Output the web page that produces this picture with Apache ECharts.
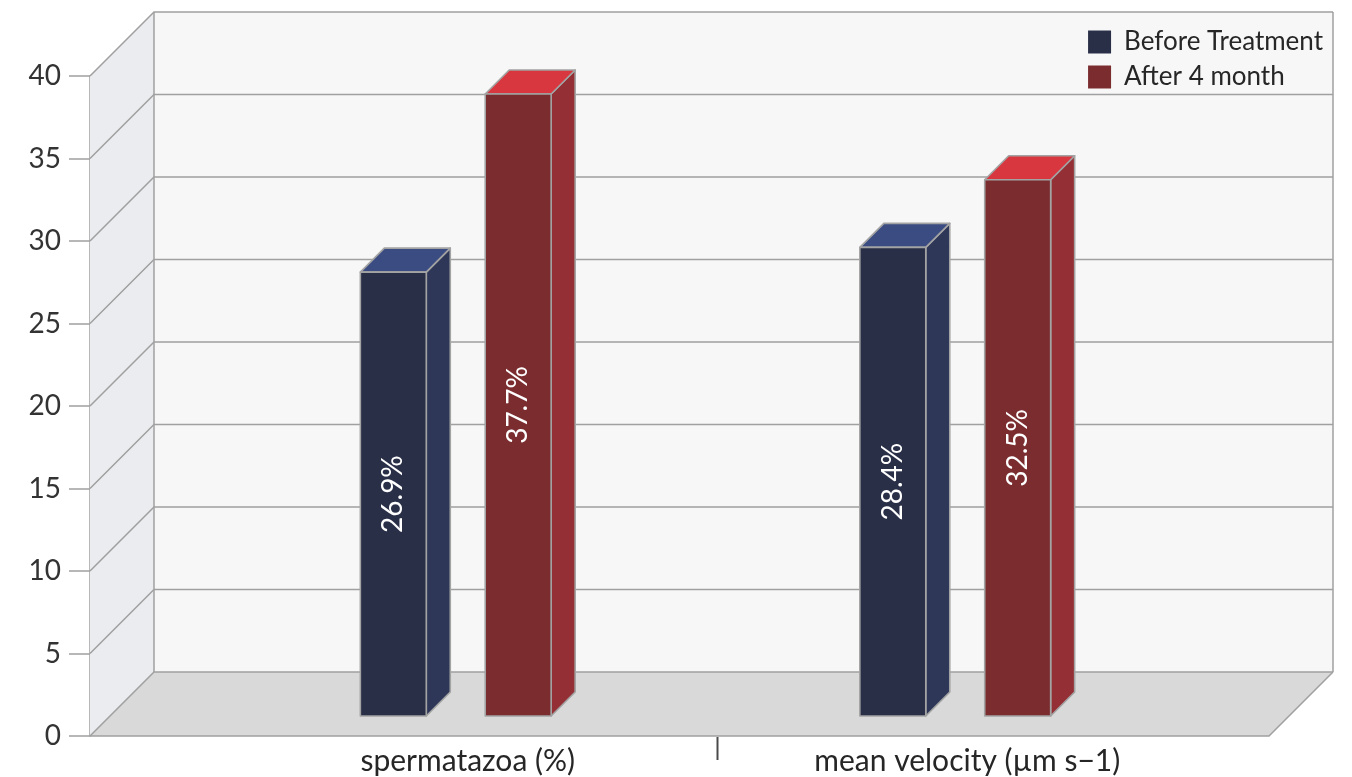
<!DOCTYPE html>
<html>
<head>
<meta charset="utf-8">
<title>Before / After treatment</title>
<script src="https://cdn.jsdelivr.net/npm/echarts@6/dist/echarts.min.js"></script>
<style>
  html, body { margin: 0; padding: 0; background: #ffffff; }
  #chart { width: 1352px; height: 777px; }
</style>
</head>
<body>
<div id="chart"></div>
<script>
// ---- data ----
const categories = ['spermatazoa (%)', 'mean velocity (µm s\u22121)'];
const seriesNames = ['Before Treatment', 'After 4 month'];
const beforeValues = [26.9, 28.4];
const afterValues = [37.7, 32.5];
const yTicks = [0, 5, 10, 15, 20, 25, 30, 35, 40];

// ---- look ----
const FONT = 'Lato';
const DEPTH = 64;          // depth of the floor / side wall, px
const BAR_DEPTH = 24;      // depth of each bar, px (centred in DEPTH)
const HALF = DEPTH / 2;
const EDGE = '#a3a3a3';
const palette = [
  { front: '#2a2f48', side: '#2e3758', top: '#3b4c82' },
  { front: '#7a2c2f', side: '#943035', top: '#d8373f' }
];

const chart = echarts.init(document.getElementById('chart'));

// back wall, side wall, floor and gridlines in the front-plane grid
function renderFrame(params, api) {
  const x0 = api.coord([0, 0])[0];
  const x1 = api.coord([1, 0])[0];
  const y = v => api.coord([0, v])[1];
  const yTop = y(yTicks[yTicks.length - 1]);
  const yBot = y(0);
  const line = { stroke: '#a0a0a0', lineWidth: 1.5 };
  const children = [
    { type: 'polygon', shape: { points: [[x0 + DEPTH, yTop - DEPTH], [x1 + DEPTH, yTop - DEPTH], [x1 + DEPTH, yBot - DEPTH], [x0 + DEPTH, yBot - DEPTH]] },
      style: { fill: '#f7f7f7', stroke: null } },
    { type: 'polygon', shape: { points: [[x0, yTop], [x0 + DEPTH, yTop - DEPTH], [x0 + DEPTH, yBot - DEPTH], [x0, yBot]] },
      style: { fill: '#ebecef', stroke: null } },
    { type: 'polygon', shape: { points: [[x0, yBot], [x1, yBot], [x1 + DEPTH, yBot - DEPTH], [x0 + DEPTH, yBot - DEPTH]] },
      style: { fill: '#d9d9d9', stroke: null } }
  ];
  yTicks.forEach(v => {
    const yy = y(v);
    children.push({ type: 'polyline', shape: { points: [[x0, yy], [x0 + DEPTH, yy - DEPTH], [x1 + DEPTH, yy - DEPTH]] }, style: Object.assign({ fill: null }, line) });
  });
  // wall edges
  children.push({ type: 'line', shape: { x1: x0 + DEPTH, y1: yTop - DEPTH, x2: x0 + DEPTH, y2: yBot - DEPTH }, style: line });
  children.push({ type: 'line', shape: { x1: x1 + DEPTH, y1: yTop - DEPTH, x2: x1 + DEPTH, y2: yBot - DEPTH }, style: line });
  children.push({ type: 'polyline', shape: { points: [[x0, yBot], [x1, yBot], [x1 + DEPTH, yBot - DEPTH]] }, style: Object.assign({ fill: null }, line) });
  return { type: 'group', children: children };
}

// 3D bars drawn in the mid-depth grid
function makeBarRenderer(seriesIdx, values) {
  const colors = palette[seriesIdx];
  const offsetFrac = seriesIdx === 0 ? -0.125 : 0.125;
  const widthFrac = 0.132;
  const d = BAR_DEPTH / 2;
  return function (params, api) {
    const idx = api.value(0);
    const val = api.value(1);
    const top = api.coord([idx, val]);
    const base = api.coord([idx, 0]);
    const band = api.size([1, 0])[0];
    const w = band * widthFrac;
    const cx = top[0] + band * offsetFrac;
    // front face corners
    const fl = cx - w / 2 - d, fr = cx + w / 2 - d;
    const ft = top[1] + d, fb = base[1] + d;
    const edge = { stroke: EDGE, lineWidth: 1.6, lineJoin: 'round' };
    return {
      type: 'group',
      children: [
        { type: 'polygon', shape: { points: [[fr, ft], [fr + 2 * d, ft - 2 * d], [fr + 2 * d, fb - 2 * d], [fr, fb]] },
          style: Object.assign({ fill: colors.side }, edge) },
        { type: 'polygon', shape: { points: [[fl, ft], [fr, ft], [fr + 2 * d, ft - 2 * d], [fl + 2 * d, ft - 2 * d]] },
          style: Object.assign({ fill: colors.top }, edge) },
        { type: 'rect', shape: { x: fl, y: ft, width: fr - fl, height: fb - ft },
          style: Object.assign({ fill: colors.front }, edge) },
        { type: 'text', x: (fl + fr) / 2, y: (ft + fb) / 2, rotation: Math.PI / 2,
          style: { text: values[idx].toFixed(1) + '%', fill: '#ffffff', font: '28px ' + FONT, align: 'center', verticalAlign: 'middle' } }
      ]
    };
  };
}

// divider tick between the two categories, below the floor
function renderDivider(params, api) {
  const a = api.coord([0, 0]);
  const b = api.coord([1, 0]);
  const x = (a[0] + b[0]) / 2;
  const y0 = a[1] + HALF + 1;
  return { type: 'line', shape: { x1: x, y1: y0, x2: x, y2: y0 + 23 }, style: { stroke: '#4a4a4a', lineWidth: 2 } };
}

const frontGrid = { left: 90, right: 83, top: 76, bottom: 41 };
const midGrid = {
  left: 90 + 96 + HALF,
  right: 83 + 83 + 1 - HALF,
  top: frontGrid.top - HALF,
  bottom: frontGrid.bottom + HALF
};

const option = {
  backgroundColor: '#ffffff',
  animation: false,
  textStyle: { fontFamily: FONT },
  grid: [
    Object.assign({ containLabel: false }, frontGrid),
    Object.assign({ containLabel: false }, midGrid)
  ],
  legend: {
    orient: 'vertical',
    right: 24,
    top: 24,
    itemWidth: 23,
    itemHeight: 23,
    itemGap: 9,
    icon: 'rect',
    data: seriesNames,
    textStyle: { fontFamily: FONT, fontSize: 26, color: '#262626', padding: [0, 0, 0, 8] }
  },
  xAxis: [
    { type: 'value', gridIndex: 0, min: 0, max: 1, show: false },
    { type: 'category', gridIndex: 1, data: categories,
      axisLine: { show: false }, axisTick: { show: false }, splitLine: { show: false },
      axisLabel: { margin: 42, fontFamily: FONT, fontSize: 30, color: '#262626' } }
  ],
  yAxis: [
    { type: 'value', gridIndex: 0, min: 0, max: 40, interval: 5,
      axisLine: { show: true, lineStyle: { color: '#a0a0a0', width: 1.5 } },
      axisTick: { show: true, length: 21, lineStyle: { color: '#a0a0a0', width: 1.5 } },
      splitLine: { show: false },
      axisLabel: { margin: 29, fontFamily: FONT, fontSize: 28, color: '#333333' } },
    { type: 'value', gridIndex: 1, min: 0, max: 40, interval: 5, show: false }
  ],
  series: [
    { type: 'custom', name: 'frame', xAxisIndex: 0, yAxisIndex: 0, data: [[0, 0]], renderItem: renderFrame, silent: true, z: 1 },
    { type: 'custom', name: seriesNames[0], xAxisIndex: 1, yAxisIndex: 1,
      itemStyle: { color: palette[0].front },
      data: beforeValues.map((v, i) => [i, v]), renderItem: makeBarRenderer(0, beforeValues), z: 3 },
    { type: 'custom', name: seriesNames[1], xAxisIndex: 1, yAxisIndex: 1,
      itemStyle: { color: palette[1].front },
      data: afterValues.map((v, i) => [i, v]), renderItem: makeBarRenderer(1, afterValues), z: 3 },
    { type: 'custom', name: 'divider', xAxisIndex: 1, yAxisIndex: 1, data: [[0, 0]], renderItem: renderDivider, silent: true, z: 2 }
  ]
};

chart.setOption(option);
</script>
</body>
</html>
